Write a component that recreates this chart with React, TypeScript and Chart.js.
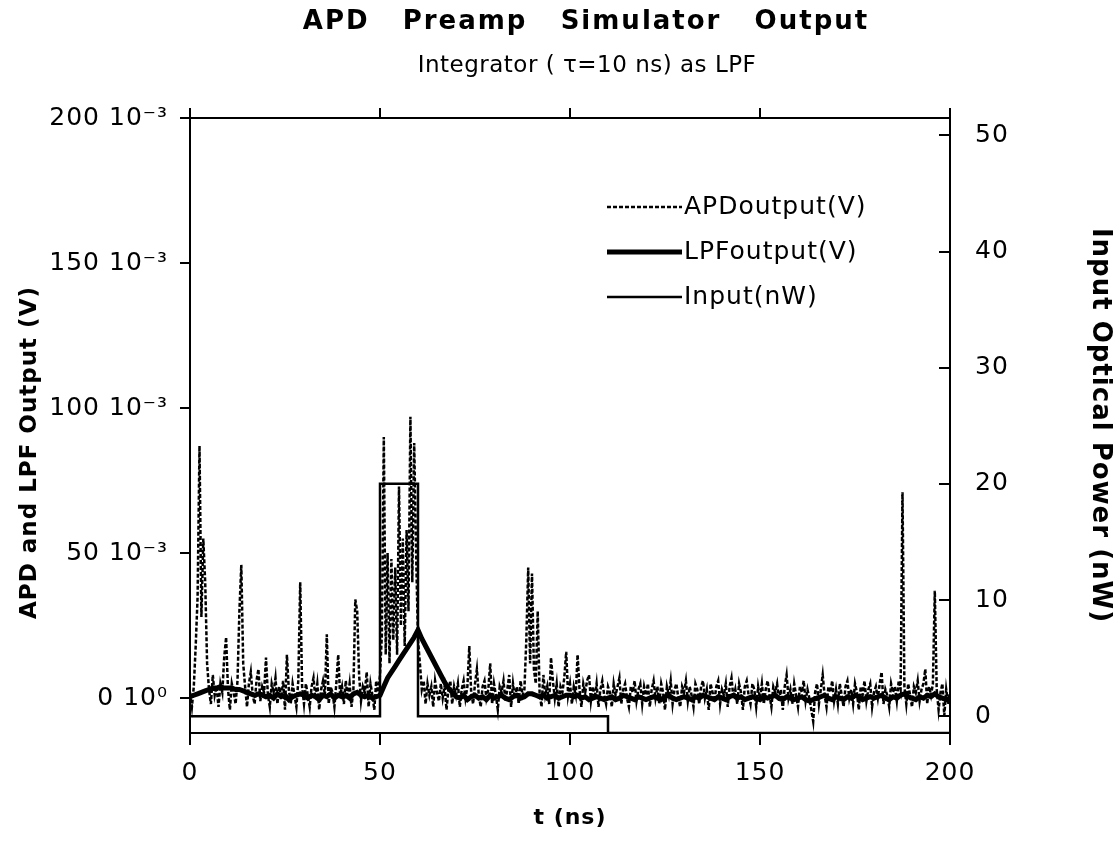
import { useEffect, useRef } from 'react';
import { Chart, registerables } from 'chart.js';
Chart.register(...registerables);

// APD output in mV, sampled every 0.5 ns from t = 0 to 200 ns
const APD_STEP_NS = 0.5;
const APD_MV = [
  2, -3, 4, 18, 35, 87, 28, 55, 40, 12, 3, -2, 8, 1, 4, -3, 5, 2, 14, 21,
  3, -4, 5, 2, -2, 6, 30, 46, 12, 4, -3, 5, 9, 1, -2, 6, 10, -1, 4, 2,
  14, 1, -3, 5, 2, 7, -2, 4, 0, 6, -4, 15, 3, -2, 5, 1, -3, 6, 40, 4,
  -2, 5, 1, -3, 4, 7, 0, 5, -4, 3, 6, 1, 22, -2, 4, 2, -3, 5, 15, 1,
  4, -2, 6, 0, 5, -3, 3, 34, 30, 8, -1, 4, 2, 9, -3, 5, 1, -4, 6, 2,
  8, 22, 90, 15, 50, 12, 48, 20, 45, 15, 73, 25, 55, 18, 58, 30, 97, 40, 88, 50,
  20, 12, 3, 6, -2, 5, 1, 4, -3, 6, 2, -1, 5, 0, 4, -4, 3, 6, -2, 4,
  1, 5, -3, 3, 6, 0, 4, 18, 2, -2, 5, 10, 1, -3, 4, 6, 0, 3, 12, -2,
  5, 1, -4, 4, 2, 6, -1, 3, 8, -3, 5, 0, 4, -2, 6, 1, 3, 20, 45, 12,
  43, 10, 5, 30, 2, -3, 8, 1, 4, -2, 14, 6, 0, 5, -3, 4, 2, 7, 16, 1,
  5, -2, 4, 1, 15, 3, -3, 5, 2, 6, 8, -1, 4, 0, 5, -3, 3, 6, 1, -2,
  4, 2, -3, 5, 1, 4, 7, -2, 3, 5, 0, -3, 4, 2, 6, -1, 3, 5, -2, 4,
  1, 5, -3, 3, 6, 0, 4, -2, 5, 2, -4, 4, 1, 6, -2, 3, 5, 0, -3, 4,
  2, 6, -1, 4, 1, -3, 5, 3, -2, 4, 6, 0, 3, -4, 5, 2, -1, 4, 6, -2,
  3, 1, 5, -3, 4, 7, 0, 3, -2, 5, 2, -4, 4, 6, 1, -2, 5, 3, -3, 4,
  0, 5, -2, 3, 6, 1, -3, 4, 2, 5, -1, 3, -4, 4, 8, 0, 3, -2, 5, 1,
  -3, 4, 2, 6, -1, 3, 0, -4, -8, 2, 5, -2, 3, 8, 1, -3, 4, 2, 6, -1,
  3, -2, 5, 1, -3, 4, 6, 0, 3, -2, 5, 2, -4, 4, 1, 6, -1, 3, 5, -3,
  2, 4, 0, 5, 9, -2, 3, 1, -3, 5, 2, 4, -1, 6, 3, 71, 4, -2, 5, 1,
  -3, 4, 2, 6, -1, 3, 5, 10, -2, 4, 1, 5, 37, 3, -4, 2, 5, -6, 3, -2,
  2,
];

// LPF output in mV, sampled every 1 ns from t = 0 to 200 ns
const LPF_STEP_NS = 1;
const LPF_MV = [
  0.5, 1, 1.5, 2, 2.5, 3, 3.5, 3.5, 4, 3.5,
  3.5, 3.5, 3, 3, 2.5, 2, 1.5, 1, 1.5, 1,
  0.5, 1, 0, 1.5, 0.5, 1, -0.5, 0.5, 1, 1.5,
  1, 0, 1, 0.5, -0.5, 1, 0.5, 1.5, 0, 1,
  0.5, 1, 0, 1.5, 2, 1, 0.5, 1, 0, 0.5,
  1, 4, 7, 9, 11, 13, 15, 17, 19, 21,
  23.5, 20.5, 18, 15.5, 13, 10.5, 8, 5.5, 3.5, 2,
  0.5, 0, 1, -0.5, 0.5, 1, 0, 0.5, -0.5, 1,
  0, 0.5, 1, 0, -0.5, 0.5, 1, 0, 0.5, 1.5,
  1.5, 1, 0.5, 1, 0, 0.5, 1, 0, 0.5, 1,
  1, 0.5, 1, 0, 0.5, -0.5, 0, 0.5, 0, -0.5,
  0, 0.5, -0.5, 0, 1, 0.5, 0, -0.5, 0.5, 0,
  -0.5, 0, 0.5, 0, -0.5, 0.5, 1, 0, -0.5, 0,
  0.5, 0, -0.5, 0.5, 0, 1, 0.5, 0, -0.5, 0.5,
  0, -0.5, 0.5, 1, 0, 0.5, -0.5, 0, 0.5, 0,
  -0.5, 0.5, 0, 0.5, 1, 0, -0.5, 0.5, 0, -0.5,
  0, 0.5, -0.5, -1, -0.5, 0, 0.5, 1, 0, -0.5,
  0.5, 0, -0.5, 0.5, 0, 1, 0.5, -0.5, 0, 0.5,
  0, 0.5, 1, 0, -0.5, 0.5, 0, 1, 1.5, 0.5,
  0, -0.5, 0.5, 0, 1, 0.5, 1.5, 0.5, 0, -0.5,
  0,
];

// Input optical power (nW) step waveform
const INPUT_T = [0, 50, 50, 60, 60, 110, 110, 200];
const INPUT_NW = [0, 0, 20, 20, 0, 0, -1.45, -1.45];

const X_TICKS = [0, 50, 100, 150, 200];
const LEFT_TICKS = [0, 50, 100, 150, 200];
const LEFT_TICK_LABELS = ['0 10\u2070', '50 10\u207B\u00B3', '100 10\u207B\u00B3', '150 10\u207B\u00B3', '200 10\u207B\u00B3'];
const RIGHT_TICKS = [0, 10, 20, 30, 40, 50];
const SERIES_LABELS = ['APDoutput(V)', 'LPFoutput(V)', 'Input(nW)'];

const TITLE = 'APD   Preamp   Simulator   Output';
const SUBTITLE = 'Integrator ( \u03C4=10 ns) as LPF';
const LEFT_TITLE = 'APD and LPF Output (V)      ';
const RIGHT_TITLE = 'Input Optical Power (nW)';
const X_TITLE = 't (ns)';

const FONT = "'DejaVu Sans', sans-serif";

export default function App() {
  const ref = useRef<HTMLCanvasElement | null>(null);

  useEffect(() => {
    document.body.style.margin = '0';
    const canvas = ref.current;
    if (!canvas) return;

    const spacingPlugin = {
      id: 'spacing',
      beforeDraw(chart: any) {
        (chart.ctx as any).letterSpacing = '1px';
      },
    };

    const titlePlugin = {
      id: 'titles',
      afterDraw(chart: any) {
        const ctx = chart.ctx;
        ctx.save();
        ctx.fillStyle = '#000';
        ctx.textAlign = 'center';
        ctx.textBaseline = 'middle';
        (ctx as any).letterSpacing = '2px';
        ctx.font = `bold 26px ${FONT}`;
        ctx.fillText(TITLE, 586, 22);
        (ctx as any).letterSpacing = '0.5px';
        ctx.font = `23px ${FONT}`;
        ctx.fillText(SUBTITLE, 587, 66);
        ctx.restore();
      },
    };

    const inwardTicks = {
      id: 'inwardTicks',
      afterDatasetsDraw(chart: any) {
        const s = chart.scales.y2;
        const ctx = chart.ctx;
        ctx.save();
        ctx.strokeStyle = '#000';
        ctx.lineWidth = 2;
        s.ticks.forEach((t: any) => {
          const y = Math.round(s.getPixelForValue(t.value));
          ctx.beginPath();
          ctx.moveTo(s.left - 11, y);
          ctx.lineTo(s.left, y);
          ctx.stroke();
        });
        ctx.restore();
      },
    };

    const legendPlugin = {
      id: 'customLegend',
      afterDatasetsDraw(chart: any) {
        const ctx = chart.ctx;
        const rows = [207, 252, 297];
        ctx.save();
        ctx.fillStyle = '#000';
        ctx.textBaseline = 'middle';
        ctx.textAlign = 'left';
        ctx.font = `25px ${FONT}`;
        chart.data.datasets.forEach((ds: any, i: number) => {
          const y = rows[i];
          ctx.strokeStyle = '#000';
          ctx.lineWidth = ds.borderWidth;
          ctx.setLineDash(ds.borderDash || []);
          ctx.beginPath();
          ctx.moveTo(607, y);
          ctx.lineTo(682, y);
          ctx.stroke();
          ctx.setLineDash([]);
          ctx.fillText(ds.label, 684, y);
        });
        ctx.restore();
      },
    };

    const apdData = APD_MV.map((v, i) => ({ x: i * APD_STEP_NS, y: v }));
    const lpfData = LPF_MV.map((v, i) => ({ x: i * LPF_STEP_NS, y: v }));
    const inputData = INPUT_T.map((t, i) => ({ x: t, y: INPUT_NW[i] }));

    const chart = new Chart(canvas, {
      type: 'line',
      data: {
        datasets: [
          {
            label: SERIES_LABELS[0],
            data: apdData,
            borderColor: '#000',
            borderWidth: 2.5,
            borderDash: [4, 2],
            pointRadius: 0,
            tension: 0,
            yAxisID: 'y',
            order: 2,
          },
          {
            label: SERIES_LABELS[1],
            data: lpfData,
            borderColor: '#000',
            borderWidth: 5,
            pointRadius: 0,
            tension: 0,
            yAxisID: 'y',
            order: 0,
          },
          {
            label: SERIES_LABELS[2],
            data: inputData,
            borderColor: '#000',
            borderWidth: 2.5,
            pointRadius: 0,
            tension: 0,
            yAxisID: 'y2',
            order: 1,
          },
        ],
      },
      options: {
        responsive: false,
        animation: false,
        devicePixelRatio: 1,
        layout: { padding: 0 },
        plugins: {
          legend: { display: false },
          tooltip: { enabled: false },
          title: { display: false },
        },
        scales: {
          x: {
            type: 'linear',
            position: 'bottom',
            min: 0,
            max: 200,
            afterBuildTicks: (s: any) => { s.ticks = X_TICKS.map((v) => ({ value: v })); },
            afterFit: (s: any) => { s.height = 131; },
            ticks: { color: '#000', font: { family: FONT, size: 25 }, padding: 13, maxRotation: 0 },
            grid: { drawOnChartArea: false, drawTicks: true, tickLength: 12, color: '#000', lineWidth: 2 },
            border: { display: true, color: '#000', width: 2 },
            title: { display: true, text: X_TITLE, color: '#000', font: { family: FONT, size: 22, weight: 'bold' }, padding: { top: 0, bottom: 33 } },
          },
          x2: {
            type: 'linear',
            position: 'top',
            min: 0,
            max: 200,
            afterBuildTicks: (s: any) => { s.ticks = X_TICKS.map((v) => ({ value: v })); },
            afterFit: (s: any) => { s.height = 118; },
            ticks: { display: true, callback: () => '' },
            grid: { drawOnChartArea: false, drawTicks: true, tickLength: 10, color: '#000', lineWidth: 2 },
            border: { display: true, color: '#000', width: 2 },
          },
          y: {
            type: 'linear',
            position: 'left',
            min: -12,
            max: 200,
            afterBuildTicks: (s: any) => { s.ticks = LEFT_TICKS.map((v) => ({ value: v })); },
            afterFit: (s: any) => { s.width = 190; },
            ticks: {
              color: '#000',
              font: { family: FONT, size: 25 },
              padding: 12,
              callback: (v: any) => LEFT_TICK_LABELS[LEFT_TICKS.indexOf(Number(v))] ?? '',
            },
            grid: { drawOnChartArea: false, drawTicks: true, tickLength: 10, color: '#000', lineWidth: 2 },
            border: { display: true, color: '#000', width: 2 },
            title: { display: true, text: LEFT_TITLE, color: '#000', font: { family: FONT, size: 23, weight: 'bold' }, padding: { top: 16, bottom: 0 } },
          },
          y2: {
            type: 'linear',
            position: 'right',
            min: -1.45,
            max: 51.5,
            afterBuildTicks: (s: any) => { s.ticks = RIGHT_TICKS.map((v) => ({ value: v })); },
            afterFit: (s: any) => { s.width = 168; },
            ticks: { color: '#000', font: { family: FONT, size: 25 }, padding: 25 },
            grid: { drawOnChartArea: false, drawTicks: false, color: '#000', lineWidth: 2 },
            border: { display: true, color: '#000', width: 2 },
            title: { display: true, text: RIGHT_TITLE, color: '#000', font: { family: FONT, size: 26, weight: 'bold' }, padding: { top: 3, bottom: 0 } },
          },
        },
      } as any,
      plugins: [spacingPlugin, titlePlugin, inwardTicks, legendPlugin],
    });

    return () => chart.destroy();
  }, []);

  return <canvas ref={ref} width={1118} height={864} style={{ display: 'block', width: 1118, height: 864 }} />;
}
